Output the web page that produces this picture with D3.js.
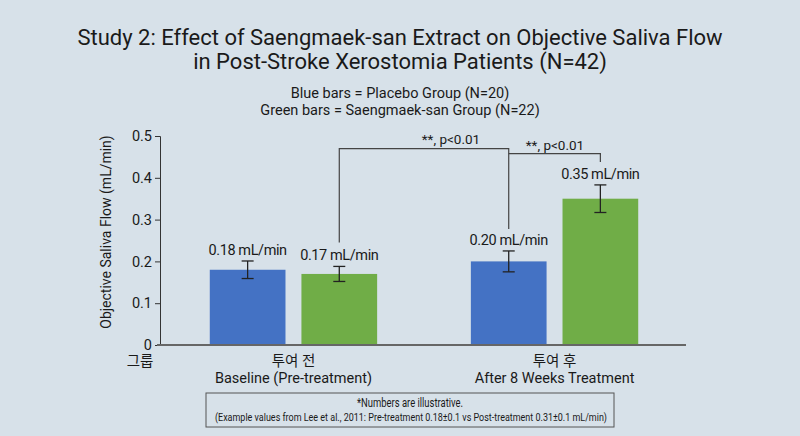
<!DOCTYPE html>
<html>
<head>
<meta charset="utf-8">
<script src="https://cdn.jsdelivr.net/npm/d3@7"></script>
<style>
  body { margin: 0; background: #d7e1e9; }
  svg text { font-family: Roboto, "Noto Sans", "Noto Sans CJK KR", sans-serif; fill: #1a1a1a; }
</style>
</head>
<body>
<div class="canvas"></div>
<script>
// data
var groups = ["투여 전", "투여 후"];
var groupSubs = ["Baseline (Pre-treatment)", "After 8 Weeks Treatment"];
var series = ["Placebo", "Saengmaek-san"];
var placebo = [0.18, 0.20];
var placeboErr = [0.021, 0.025];
var smk = [0.17, 0.35];
var smkErr = [0.018, 0.033];
var yTicks = [0, 0.1, 0.2, 0.3, 0.4, 0.5];

var colors = { "Placebo": "#4472c4", "Saengmaek-san": "#70ad47" };

var W = 800, H = 436;
var svg = d3.select(".canvas").append("svg")
    .attr("width", W).attr("height", H);

svg.append("rect").attr("width", W).attr("height", H).attr("fill", "#d7e1e9");

var y = d3.scaleLinear().domain([0, 0.5]).range([345, 136]);
var x0 = d3.scaleBand().domain(groups).range([162, 686]).paddingInner(0.359).paddingOuter(0.183);
var x1 = d3.scaleBand().domain(series).range([0, x0.bandwidth()]).paddingInner(0.174);

// rows of bars
var rows = [];
groups.forEach(function(g, i){
    rows.push({ g: g, s: "Placebo", v: placebo[i], e: placeboErr[i] });
    rows.push({ g: g, s: "Saengmaek-san", v: smk[i], e: smkErr[i] });
});
function cx(d){ return x0(d.g) + x1(d.s) + x1.bandwidth() / 2; }

// TITLE
svg.append("text").attr("x", 400).attr("y", 45).attr("text-anchor", "middle")
    .style("font-size", "22px").text("Study 2: Effect of Saengmaek-san Extract on Objective Saliva Flow");
svg.append("text").attr("x", 400).attr("y", 69).attr("text-anchor", "middle")
    .style("font-size", "22px").text("in Post-Stroke Xerostomia Patients (N=42)");
svg.append("text").attr("x", 400).attr("y", 98).attr("text-anchor", "middle")
    .style("font-size", "14.5px").text("Blue bars = Placebo Group (N=20)");
svg.append("text").attr("x", 400).attr("y", 115).attr("text-anchor", "middle")
    .style("font-size", "14.5px").text("Green bars = Saengmaek-san Group (N=22)");

// y axis
var yAxis = d3.axisLeft(y).tickValues(yTicks).tickFormat(function(d){ return d === 0 ? "0" : d3.format(".1f")(d); }).tickSize(5);
var ya = svg.append("g").attr("transform", "translate(160,0)").call(yAxis);
ya.select(".domain").attr("stroke", "#333");
ya.selectAll(".tick line").attr("stroke", "#333");
ya.selectAll(".tick text").style("font-size", "14.5px").attr("fill", "#1a1a1a")
    .style("font-family", "Roboto, sans-serif").attr("x", -8);

svg.append("text").attr("transform", "translate(111,232) rotate(-90)")
    .attr("text-anchor", "middle").style("font-size", "14px")
    .text("Objective Saliva Flow (mL/min)");

// bars
svg.selectAll("rect.bar").data(rows).enter().append("rect")
    .attr("class", "bar")
    .attr("x", function(d){ return x0(d.g) + x1(d.s); })
    .attr("width", x1.bandwidth())
    .attr("y", function(d){ return y(d.v); })
    .attr("height", function(d){ return y(0) - y(d.v); })
    .attr("fill", function(d){ return colors[d.s]; });

// error bars
var eb = svg.selectAll("g.err").data(rows).enter().append("g").attr("class", "err")
    .attr("stroke", "#222").attr("stroke-width", 1.3);
eb.append("line").attr("x1", cx).attr("x2", cx)
    .attr("y1", function(d){ return y(d.v + d.e); }).attr("y2", function(d){ return y(d.v - d.e); });
eb.append("line").attr("x1", function(d){ return cx(d) - 6; }).attr("x2", function(d){ return cx(d) + 6; })
    .attr("y1", function(d){ return y(d.v + d.e); }).attr("y2", function(d){ return y(d.v + d.e); });
eb.append("line").attr("x1", function(d){ return cx(d) - 6; }).attr("x2", function(d){ return cx(d) + 6; })
    .attr("y1", function(d){ return y(d.v - d.e); }).attr("y2", function(d){ return y(d.v - d.e); });

// value labels
svg.selectAll("text.val").data(rows).enter().append("text")
    .attr("class", "val").attr("text-anchor", "middle")
    .attr("x", cx).attr("y", function(d){ return y(d.v + d.e) - 6; })
    .style("font-size", "14.5px").style("letter-spacing", "-0.4px")
    .text(function(d){ return d3.format(".2f")(d.v) + " mL/min"; });

// baseline
svg.append("line").attr("x1", 157).attr("x2", 686).attr("y1", y(0)).attr("y2", y(0))
    .attr("stroke", "#666").attr("stroke-width", 2);

// x labels
svg.selectAll("text.grp").data(groups).enter().append("text")
    .attr("class", "grp").attr("text-anchor", "middle")
    .attr("x", function(d){ return x0(d) + x0.bandwidth() / 2; }).attr("y", 366)
    .style("font-size", "14.5px").text(function(d){ return d; });
svg.selectAll("text.grpsub").data(groupSubs).enter().append("text")
    .attr("class", "grpsub").attr("text-anchor", "middle")
    .attr("x", function(d, i){ return x0(groups[i]) + x0.bandwidth() / 2; }).attr("y", 383)
    .style("font-size", "14.5px").text(function(d){ return d; });
svg.append("text").attr("x", 140).attr("y", 366).attr("text-anchor", "middle")
    .style("font-size", "14.5px").text("그룹");

// significance brackets
var bA = rows[1], bB = rows[2], bC = rows[3];
svg.append("path").attr("fill", "none").attr("stroke", "#444").attr("stroke-width", 1.2)
    .attr("d", "M" + cx(bA) + "," + (y(bA.v + bA.e) - 24) + "V" + y(0.47) + "H" + cx(bB) + "V" + (y(bB.v + bB.e) - 22));
svg.append("path").attr("fill", "none").attr("stroke", "#444").attr("stroke-width", 1.2)
    .attr("d", "M" + cx(bB) + "," + y(0.458) + "H" + cx(bC) + "V" + y(0.438));
svg.append("text").attr("x", 451).attr("y", 144).attr("text-anchor", "middle")
    .style("font-size", "13.5px").text("**, p<0.01");
svg.append("text").attr("x", 555).attr("y", 150).attr("text-anchor", "middle")
    .style("font-size", "13.5px").text("**, p<0.01");

// footnote box
svg.append("rect").attr("x", 206).attr("y", 393).attr("width", 408).attr("height", 34)
    .attr("fill", "none").attr("stroke", "#555").attr("stroke-width", 1);
svg.append("text").attr("x", 410).attr("y", 407).attr("text-anchor", "middle")
    .style("font-size", "12px").attr("textLength", 106).attr("lengthAdjust", "spacingAndGlyphs")
    .text("*Numbers are illustrative.");
svg.append("text").attr("x", 411).attr("y", 421).attr("text-anchor", "middle")
    .style("font-size", "10.5px").attr("textLength", 392).attr("lengthAdjust", "spacingAndGlyphs")
    .text("(Example values from Lee et al., 2011: Pre-treatment 0.18±0.1 vs Post-treatment 0.31±0.1 mL/min)");
</script>
</body>
</html>
